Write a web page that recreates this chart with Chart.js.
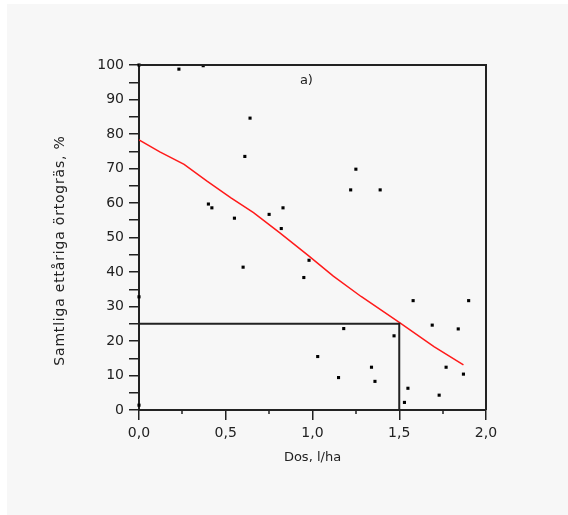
<!DOCTYPE html>
<html>
<head>
<meta charset="utf-8">
<script src="https://cdn.jsdelivr.net/npm/chart.js@4/dist/chart.umd.min.js"></script>
<style>
  html, body { margin: 0; padding: 0; background: #ffffff; }
  #wrap { width: 568px; height: 515px; position: relative; }
</style>
</head>
<body>
<div id="wrap"><canvas id="chart" width="568" height="515"></canvas></div>
<script>
// observationer (dos l/ha, % kvar)
const dosX = [0.00, 0.23, 0.37, 0.64, 0.61, 0.40, 0.42, 0.55, 0.75, 0.83, 0.82,
              1.25, 1.22, 1.39, 0.60, 0.95, 0.98, 0.00, 0.00, 1.58, 1.90, 1.69,
              1.84, 1.18, 1.47, 1.03, 1.34, 1.77, 1.87, 1.15, 1.36, 1.55, 1.73, 1.53];
const procY = [100, 98.8, 99.8, 84.6, 73.5, 59.7, 58.6, 55.6, 56.7, 58.6, 52.6,
               69.8, 63.8, 63.8, 41.4, 38.4, 43.4, 32.8, 1.4, 31.7, 31.7, 24.6,
               23.5, 23.6, 21.5, 15.5, 12.4, 12.4, 10.4, 9.4, 8.3, 6.3, 4.3, 2.2];

// anpassad kurva (röd), avläst längs linjen
const kurvaX = [0, 0.12, 0.26, 0.39, 0.53, 0.66, 0.81, 0.98, 1.12, 1.28, 1.50, 1.70, 1.87];
const kurvaY = [78.3, 74.8, 71.2, 66.4, 61.5, 57.2, 51.4, 44.6, 38.8, 32.9, 25.4, 18.4, 13.1];

// hjälplinjer vid 25 %
const hjalpX = [0, 1.5, 1.5];
const hjalpY = [25, 25, 0];

const xTitel = 'Dos, l/ha';
const yTitel = 'Samtliga ettåriga örtogräs, %';
const panelText = 'a)';
const panelPos = [0.965, 95.6];

const zip = (xs, ys) => xs.map((x, i) => ({x: x, y: ys[i]}));
const ink = '#222222';

// bakgrund, ram, små streck, y-titel och "a)"
const extras = {
  id: 'extras',
  beforeDraw(chart) {
    const ctx = chart.ctx;
    ctx.save();
    ctx.fillStyle = '#f7f7f7';
    ctx.fillRect(7, 4, chart.width - 7, chart.height - 4);
    ctx.restore();
  },
  afterDraw(chart) {
    const ctx = chart.ctx;
    const a = chart.chartArea;
    const xs = chart.scales.x, ys = chart.scales.y;
    ctx.save();
    ctx.strokeStyle = ink;
    ctx.lineWidth = 2;
    ctx.beginPath();
    ctx.moveTo(a.left, a.top);
    ctx.lineTo(a.right, a.top);
    ctx.lineTo(a.right, a.bottom);
    ctx.stroke();
    // korta mellanstreck på x-axeln
    ctx.lineWidth = 1.5;
    for (const v of [0.25, 0.75, 1.25, 1.75]) {
      const px = Math.round(xs.getPixelForValue(v));
      ctx.beginPath();
      ctx.moveTo(px, a.bottom);
      ctx.lineTo(px, a.bottom + 4);
      ctx.stroke();
    }
    ctx.fillStyle = ink;
    ctx.font = '13px "DejaVu Sans"';
    ctx.textAlign = 'center';
    ctx.textBaseline = 'middle';
    ctx.fillText(panelText, xs.getPixelForValue(panelPos[0]), ys.getPixelForValue(panelPos[1]));
    // y-titel, lite glesare som i förlagan
    ctx.translate(60, (a.top + a.bottom) / 2 + 13);
    ctx.rotate(-Math.PI / 2);
    ctx.font = '14px "DejaVu Sans"';
    ctx.letterSpacing = '0.8px';
    ctx.fillText(yTitel, 0, 0);
    ctx.restore();
  }
};

new Chart(document.getElementById('chart'), {
  type: 'scatter',
  data: {
    datasets: [
      {
        data: zip(hjalpX, hjalpY),
        showLine: true,
        borderColor: ink,
        borderWidth: 2,
        pointRadius: 0,
        tension: 0
      },
      {
        data: zip(kurvaX, kurvaY),
        showLine: true,
        borderColor: '#ff1a1a',
        borderWidth: 1.5,
        pointRadius: 0,
        tension: 0
      },
      {
        data: zip(dosX, procY),
        backgroundColor: '#000000',
        borderWidth: 0,
        pointStyle: 'rect',
        pointRadius: 2.2,
        clip: false
      }
    ]
  },
  options: {
    responsive: false,
    animation: false,
    events: [],
    layout: { padding: { left: 0, top: 65, right: 82, bottom: 45 } },
    plugins: { legend: { display: false }, tooltip: { enabled: false } },
    scales: {
      x: {
        type: 'linear',
        min: 0, max: 2,
        afterFit: (s) => { s.height = 60; },
        grid: { drawOnChartArea: false, tickLength: 10, color: ink, lineWidth: 1.5 },
        border: { color: ink, width: 2 },
        ticks: {
          stepSize: 0.5,
          padding: 5,
          color: ink,
          font: { family: 'DejaVu Sans', size: 14 },
          maxRotation: 0,
          callback: (v) => v.toFixed(1).replace('.', ',')
        },
        title: {
          display: true,
          text: xTitel,
          color: ink,
          font: { family: 'DejaVu Sans', size: 13 },
          padding: { top: 0, bottom: 5 }
        }
      },
      y: {
        type: 'linear',
        min: 0, max: 100,
        afterFit: (s) => { s.width = 139; },
        grid: { drawOnChartArea: false, tickLength: 10, color: ink, lineWidth: 1.5 },
        border: { color: ink, width: 2 },
        ticks: {
          stepSize: 5,
          autoSkip: false,
          padding: 5,
          color: ink,
          font: { family: 'DejaVu Sans', size: 14 },
          callback: (v) => (v % 10 === 0 ? String(v) : '')
        },
        title: { display: false }
      }
    }
  },
  plugins: [extras]
});
</script>
</body>
</html>
